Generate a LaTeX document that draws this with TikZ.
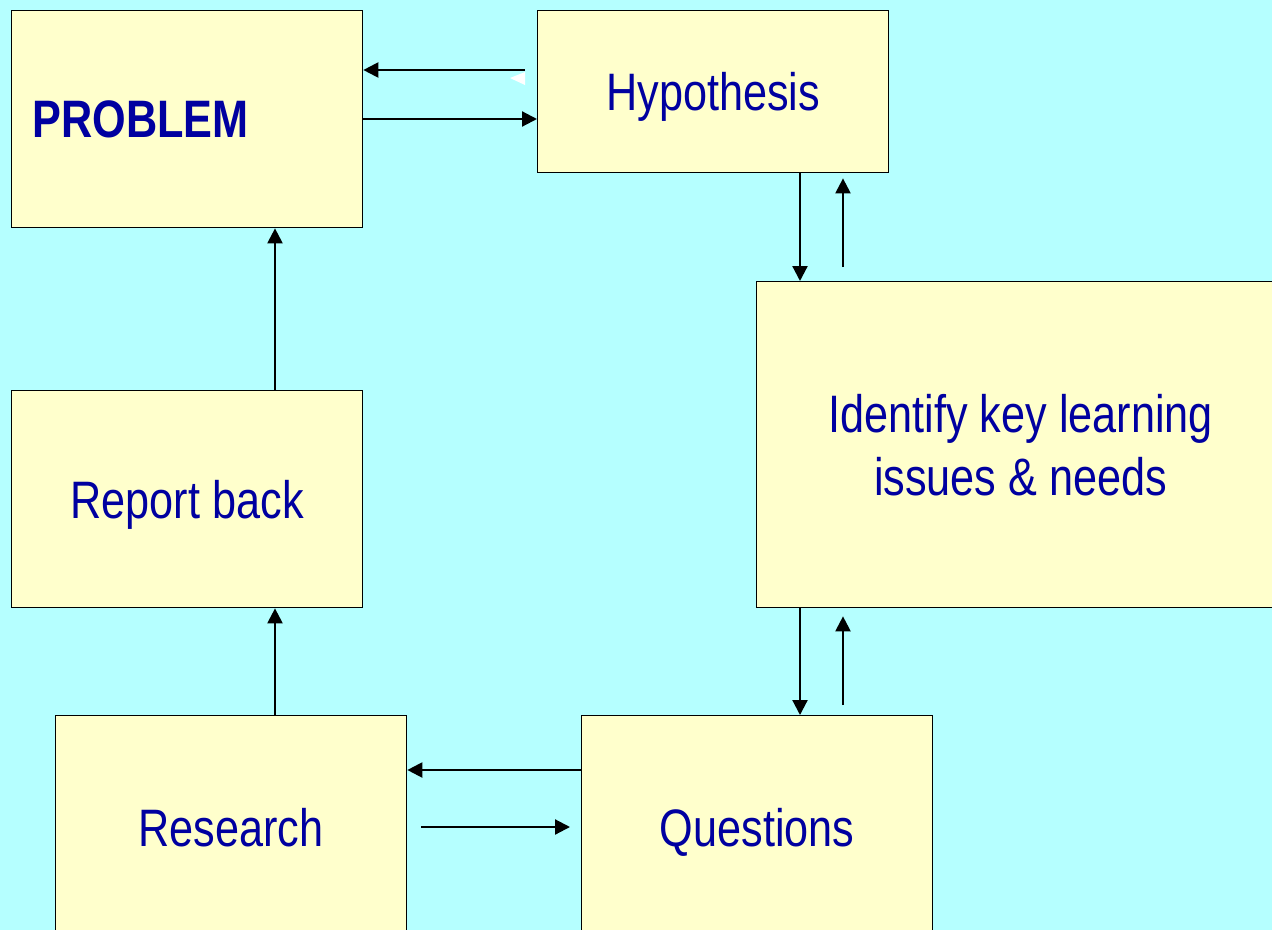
\documentclass[tikz,border=0pt]{standalone}
\usepackage{fontspec}
\newfontfamily\narrow[FakeStretch=0.82]{Liberation Sans}
\usetikzlibrary{arrows.meta,calc}
\definecolor{bgcyan}{HTML}{B5FFFF}
\definecolor{boxyellow}{HTML}{FFFFCC}
\definecolor{textblue}{HTML}{0000A0}

\begin{document}
\begin{tikzpicture}[
  x=0.02cm,y=-0.02cm,
  stage/.style={draw,fill=boxyellow,line width=0.8pt,inner sep=0pt,anchor=north west,text depth=0pt,
    text=textblue,align=center,font=\narrow\fontsize{30}{36}\selectfont},
  flow/.style={line width=1.25pt,-{Triangle[length=0.3cm,width=0.3cm]}}
]
  \clip (0,0) rectangle (1272,930);
  \fill[bgcyan] (0,0) rectangle (1272,930);

  \node[stage,minimum width=7.02cm,minimum height=4.34cm,text width=6.18cm,align=left,inner xsep=0.42cm]
    (problem) at (11,10) {\bfseries PROBLEM};
  \node[stage,minimum width=7.02cm,minimum height=3.24cm] (hyp) at (537,10) {Hypothesis};
  \node[stage,minimum width=10.56cm,minimum height=6.52cm] (ident) at (756,281)
    {Identify key learning\\issues \& needs};
  \node[stage,minimum width=7.02cm,minimum height=4.34cm] (report) at (11,390) {Report back};
  \node[stage,minimum width=7.02cm,minimum height=4.48cm] (research) at (55,715) {Research};
  \node[stage,minimum width=7.02cm,minimum height=4.48cm] (quest) at (581,715) {Questions};

  \draw[flow] ($(hyp.north west)+(-12,60)$) -- ($(problem.north east)+(0,60)$);
  \fill[white] (510,78) -- (525,72) -- (525,85) -- cycle;
  \draw[flow] ($(problem.north east)+(0,109)$) -- ($(hyp.north west)+(0,109)$);

  \draw[flow] ($(hyp.south west)+(263,0)$) -- ($(ident.north west)+(44,0)$);
  \draw[flow] ($(ident.north west)+(87,-14)$) -- ($(hyp.south west)+(306,5)$);
  \draw[flow] ($(ident.south west)+(44,0)$) -- ($(quest.north west)+(219,0)$);
  \draw[flow] ($(quest.north west)+(262,-10)$) -- ($(ident.south west)+(87,8)$);

  \draw[flow] ($(quest.north west)+(0,55)$) -- ($(research.north east)+(0,55)$);
  \draw[flow] ($(research.north east)+(14,112)$) -- ($(quest.north west)+(-11,112)$);

  \draw[flow] ($(research.north west)+(220,0)$) -- ($(report.south west)+(264,0)$);
  \draw[flow] ($(report.north west)+(264,0)$) -- ($(problem.south west)+(264,0)$);
\end{tikzpicture}
\end{document}
